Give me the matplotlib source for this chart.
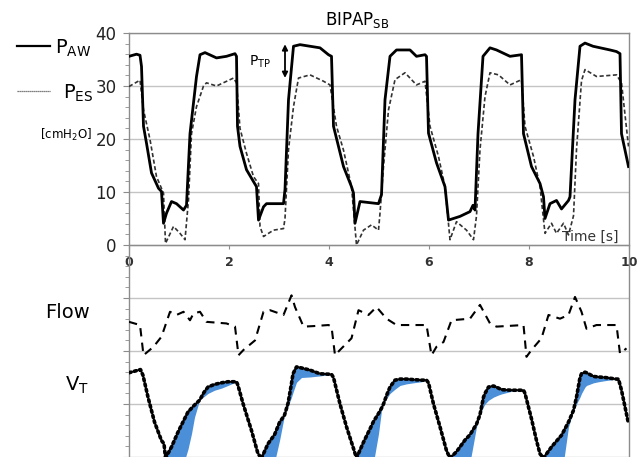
import numpy as np
import matplotlib
matplotlib.use("Agg")
from matplotlib import pyplot as plt
from matplotlib.lines import Line2D
from matplotlib.ticker import MultipleLocator, FuncFormatter

# airway pressure P_AW [cmH2O]
t_aw = [0.00, 0.15, 0.22, 0.25, 0.29, 0.35, 0.45, 0.59, 0.65, 0.69, 0.75, 0.85, 0.95, 1.09, 1.15,
        1.22, 1.35, 1.42, 1.52, 1.75, 1.95, 2.12, 2.15, 2.17, 2.22, 2.35, 2.55, 2.59, 2.69, 2.75,
        3.09, 3.12, 3.19, 3.29, 3.42, 3.82, 3.99, 4.05, 4.09, 4.29, 4.45, 4.49, 4.52, 4.62, 4.99,
        5.05, 5.12, 5.22, 5.35, 5.62, 5.75, 5.92, 5.95, 5.99, 6.15, 6.32, 6.39, 6.62, 6.82, 6.88,
        6.92, 6.98, 7.08, 7.22, 7.35, 7.62, 7.85, 7.89, 8.05, 8.22, 8.29, 8.32, 8.42, 8.55, 8.65,
        8.79, 8.82, 8.92, 9.02, 9.12, 9.28, 9.62, 9.75, 9.82, 9.85, 9.99]
p_aw = [35.6, 36.0, 35.8, 33.7, 22.4, 19.2, 13.6, 10.7, 10.1, 4.1, 6.0, 8.2, 7.8, 6.6, 7.5,
        21.0, 31.8, 35.9, 36.3, 35.3, 35.6, 36.1, 35.6, 22.4, 18.6, 14.2, 11.0, 4.7, 7.2, 7.8,
        7.8, 10.5, 27.4, 37.5, 37.8, 37.2, 35.9, 35.6, 22.4, 14.8, 11.0, 9.8, 4.1, 8.2, 7.8,
        9.5, 27.4, 35.6, 36.8, 36.8, 35.6, 35.9, 35.6, 21.1, 15.5, 11.0, 4.7, 5.4, 6.3, 7.5,
        6.6, 21.0, 35.6, 37.2, 36.8, 35.6, 35.9, 21.0, 14.8, 11.6, 9.1, 5.0, 7.8, 8.4, 6.8,
        8.4, 9.1, 27.4, 37.5, 38.1, 37.5, 36.8, 36.5, 36.1, 21.0, 14.8]

# oesophageal pressure P_ES [cmH2O]
t_es = [0.00, 0.22, 0.29, 0.42, 0.55, 0.69, 0.73, 0.89, 1.02, 1.12, 1.19, 1.25, 1.35, 1.49, 1.55,
        1.75, 2.09, 2.15, 2.22, 2.35, 2.49, 2.59, 2.62, 2.69, 2.89, 3.09, 3.12, 3.19, 3.29, 3.39,
        3.62, 3.89, 4.02, 4.15, 4.29, 4.45, 4.55, 4.69, 4.85, 4.99, 5.02, 5.09, 5.19, 5.32, 5.52,
        5.75, 5.92, 6.02, 6.19, 6.32, 6.42, 6.55, 6.75, 6.89, 6.95, 7.02, 7.12, 7.22, 7.39, 7.62,
        7.85, 7.92, 8.09, 8.22, 8.32, 8.45, 8.55, 8.69, 8.79, 8.89, 8.95, 9.05, 9.12, 9.35, 9.75,
        9.85, 9.99]
p_es = [29.9, 31.1, 25.5, 19.9, 12.9, 9.8, 0.3, 3.5, 2.2, 1.0, 8.5, 21.0, 26.1, 30.0, 30.6,
        30.0, 31.5, 30.6, 22.0, 17.3, 12.9, 11.6, 3.5, 1.6, 2.8, 3.1, 5.0, 18.0, 26.1, 31.5,
        32.1, 30.9, 30.2, 22.4, 17.9, 11.0, 0.0, 2.8, 3.8, 2.8, 6.0, 14.8, 25.5, 31.2, 32.5,
        30.2, 30.9, 22.4, 16.7, 11.0, 1.0, 4.4, 2.8, 1.0, 5.5, 18.0, 28.0, 32.5, 32.1, 30.2,
        31.2, 22.4, 16.7, 11.0, 2.2, 4.1, 2.2, 4.1, 1.9, 5.5, 18.0, 31.0, 33.1, 31.8, 32.1,
        30.6, 18.6]

# flow trace (read on the chart's y scale)
t_flow = [0.00, 0.22, 0.29, 0.49, 0.65, 0.82, 0.95, 1.09, 1.22, 1.29, 1.42, 1.55, 1.95, 2.12, 2.19,
          2.29, 2.52, 2.69, 2.82, 3.09, 3.25, 3.32, 3.49, 3.69, 3.99, 4.05, 4.12, 4.22, 4.45, 4.59,
          4.79, 4.95, 5.15, 5.35, 5.95, 6.05, 6.15, 6.29, 6.45, 6.82, 7.02, 7.22, 7.35, 7.89, 7.95,
          8.05, 8.25, 8.39, 8.62, 8.79, 8.92, 9.05, 9.15, 9.35, 9.75, 9.82, 9.95]
flow = [-14.5, -15.1, -20.8, -19.2, -17.3, -12.6, -13.2, -12.6, -14.2, -12.9, -12.6, -14.5, -14.8, -15.4, -20.8,
        -19.8, -18.0, -12.6, -12.3, -13.2, -9.5, -11.7, -15.4, -15.3, -15.1, -15.4, -20.8, -19.8, -17.6, -12.3,
        -13.2, -11.7, -13.9, -15.1, -15.1, -20.8, -19.2, -18.3, -14.2, -13.9, -11.3, -14.8, -15.4, -15.1, -21.1,
        -19.8, -17.6, -13.2, -13.9, -13.2, -9.8, -12.6, -15.8, -15.1, -15.1, -20.5, -19.5]

# tidal volume V_T and the lagging reference curve bounding the blue area
t_vt = [0.00, 0.23, 0.28, 0.38, 0.51, 0.65, 0.70, 0.73, 0.85, 0.98, 1.10, 1.18, 1.25, 1.31, 1.41,
        1.50, 1.58, 1.71, 1.85, 1.98, 2.15, 2.18, 2.28, 2.45, 2.58, 2.65, 2.78, 2.91, 3.01, 3.11,
        3.18, 3.25, 3.28, 3.35, 3.45, 3.62, 3.82, 4.05, 4.09, 4.22, 4.35, 4.49, 4.55, 4.69, 4.82,
        4.89, 4.99, 5.05, 5.09, 5.15, 5.22, 5.32, 5.42, 5.55, 5.69, 5.85, 5.95, 5.99, 6.09, 6.22,
        6.35, 6.42, 6.55, 6.62, 6.72, 6.82, 6.95, 7.02, 7.09, 7.12, 7.19, 7.29, 7.39, 7.45, 7.65,
        7.89, 7.92, 8.05, 8.15, 8.22, 8.29, 8.45, 8.65, 8.69, 8.79, 8.89, 8.95, 9.02, 9.05, 9.12,
        9.15, 9.29, 9.39, 9.52, 9.75, 9.79, 9.85, 9.99]
vt = [-24.1, -23.5, -24.6, -28.7, -33.4, -36.9, -37.5, -40.2, -38.1, -35.3, -33.0, -31.5, -30.8, -30.2, -29.3,
      -27.8, -26.8, -26.3, -26.0, -25.8, -25.8, -26.5, -29.9, -35.0, -39.4, -40.2, -37.5, -35.8, -33.5, -32.1,
      -29.9, -26.1, -24.3, -23.0, -23.2, -23.6, -24.3, -24.4, -25.0, -30.0, -34.3, -38.4, -40.2, -37.2, -34.7,
      -33.3, -31.8, -30.8, -30.0, -28.4, -26.8, -25.5, -25.3, -25.3, -25.4, -25.5, -25.5, -26.0, -30.0, -34.3,
      -38.8, -40.2, -39.0, -38.1, -36.8, -35.8, -33.8, -32.0, -28.7, -28.0, -26.8, -26.6, -27.0, -27.3, -27.4,
      -27.4, -28.0, -32.8, -36.9, -39.4, -40.2, -38.1, -35.9, -35.2, -33.4, -31.2, -28.7, -25.0, -24.3, -24.0,
      -24.1, -24.8, -24.9, -25.0, -25.3, -25.3, -27.4, -33.7]
vt_lag = [-24.1, -23.5, -24.6, -28.7, -33.4, -36.9, -37.5, -40.2, -41.0, -41.0, -41.0, -38.5, -35.6, -32.5, -29.3,
          -28.6, -28.0, -27.4, -27.0, -26.5, -25.8, -26.5, -29.9, -35.0, -39.4, -40.2, -41.0, -41.0, -36.9, -32.1,
          -30.5, -28.7, -27.8, -25.9, -25.0, -24.9, -24.7, -24.4, -25.0, -30.0, -34.3, -38.4, -40.2, -41.0, -41.0,
          -41.0, -35.6, -31.2, -30.0, -29.0, -28.0, -27.2, -26.5, -26.2, -26.0, -25.8, -25.5, -26.0, -30.0, -34.3,
          -38.8, -40.2, -41.0, -41.0, -41.0, -41.0, -34.3, -32.0, -30.5, -30.0, -29.3, -28.7, -28.3, -28.1, -27.6,
          -27.4, -28.0, -32.8, -36.9, -39.4, -40.2, -41.0, -41.0, -41.0, -34.3, -31.2, -30.0, -28.7, -28.0, -26.8,
          -26.5, -26.0, -25.8, -25.6, -25.3, -25.3, -27.4, -33.7]

x_ticks = [0, 2, 4, 6, 8, 10]
y_ticks = [-40, -30, -20, -10, 0, 10, 20, 30, 40]

grey = "#8c8c8c"

fig = plt.figure(figsize=(6.43, 4.57), dpi=100)
ax = fig.add_axes([129 / 643, 0.0, 500 / 643, 1 - 33 / 457])

ax.set_xlim(0, 10)
ax.set_ylim(-40, 40)

# blue area between V_T and lagging curve
t_vt_a = np.array(t_vt)
vt_a = np.array(vt)
lag_a = np.array(vt_lag)
ax.fill_between(t_vt_a, vt_a, lag_a, where=lag_a <= vt_a, interpolate=True,
                color="#4a8fd8", lw=0, zorder=2)
ax.plot(t_vt, vt, color="black", lw=2.6, ls=(0, (0.6, 0.9)), dash_capstyle="round", zorder=3)

ax.plot(t_flow, flow, color="black", lw=1.5, ls=(0, (4, 3)), zorder=3)
ax.plot(t_es, p_es, color="#333333", lw=1.2, ls=(0, (2.5, 1.5)), zorder=3)
ax.plot(t_aw, p_aw, color="black", lw=2.0, zorder=4)

# grid and axes styling
ax.set_yticks(y_ticks)
ax.yaxis.set_minor_locator(MultipleLocator(2))
ax.yaxis.set_major_formatter(FuncFormatter(lambda v, p: f"{v:.0f}" if v >= 0 else ""))
ax.grid(axis="y", color="#c4c4c4", lw=1.0)
ax.set_axisbelow(True)
ax.set_xticks(x_ticks)
ax.spines["bottom"].set_position(("data", 0))
for s in ["left", "right", "top", "bottom"]:
    ax.spines[s].set_color(grey)
    ax.spines[s].set_linewidth(1.0)
ax.tick_params(axis="y", which="major", length=4, color=grey, labelsize=12, pad=5, labelcolor="#222222")
ax.tick_params(axis="y", which="minor", length=3, color=grey)
ax.tick_params(axis="x", length=3, color=grey, labelsize=9, pad=5, labelcolor="#333333")
for lab in ax.get_xticklabels():
    lab.set_fontweight("bold")

# annotations
ax.annotate("", xy=(3.12, 38.4), xytext=(3.12, 31.0),
            arrowprops=dict(arrowstyle="<|-|>", color="black", lw=1.3, mutation_scale=8))
ax.text(2.62, 34.5, r"P$_{\mathregular{TP}}$", fontsize=10, ha="center", va="center")
ax.text(9.8, 0.3, "Time [s]", fontsize=10, ha="right", va="bottom", color="#333333")

fig.text(357 / 643, 1 - 20 / 457, r"BIPAP$_{\mathregular{SB}}$", fontsize=12, ha="center", va="center")

# side legend
fig.add_artist(Line2D([17 / 643, 50 / 643], [1 - 46 / 457] * 2, color="black", lw=1.6))
fig.text(55 / 643, 1 - 48 / 457, r"P$_{\mathregular{AW}}$", fontsize=14, va="center")
fig.add_artist(Line2D([17 / 643, 50 / 643], [1 - 91 / 457] * 2, color="#555555", lw=0.9, ls=(0, (1, 0.6))))
fig.text(63 / 643, 1 - 93 / 457, r"P$_{\mathregular{ES}}$", fontsize=14, va="center")
fig.text(40 / 643, 1 - 135 / 457, r"[cmH$_{\mathregular{2}}$O]", fontsize=8.5, va="center")
fig.text(45 / 643, 1 - 312 / 457, "Flow", fontsize=14, va="center")
fig.text(65 / 643, 1 - 385 / 457, r"V$_{\mathregular{T}}$", fontsize=14, va="center")

fig.savefig("out.png", dpi=100)
